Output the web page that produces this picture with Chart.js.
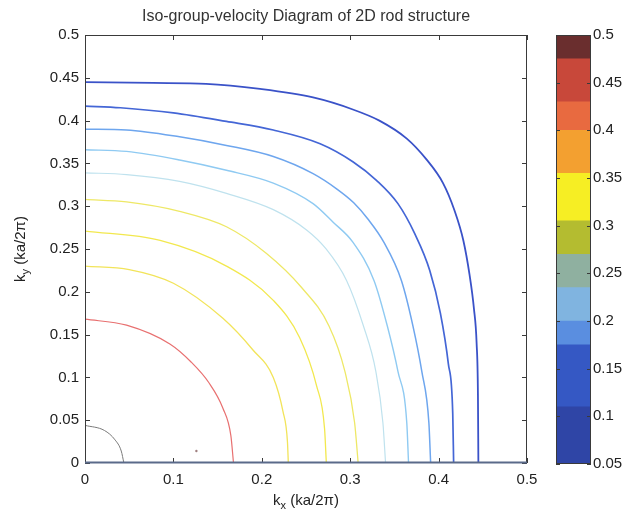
<!DOCTYPE html>
<html>
<head>
<meta charset="utf-8">
<title>Iso-group-velocity Diagram of 2D rod structure</title>
<script src="https://cdn.jsdelivr.net/npm/chart.js@4.4.1/dist/chart.umd.min.js"></script>
<style>
  html, body { margin: 0; padding: 0; background: #fff; }
  #wrap { position: relative; width: 627px; height: 519px; }
  #plot { position: absolute; left: 0; top: 0; }
  #bar { position: absolute; left: 540px; top: 0; }
</style>
</head>
<body>
<div id="wrap">
  <canvas id="plot" width="627" height="519"></canvas>
  <canvas id="bar" width="87" height="519"></canvas>
</div>
<script>
const chartTitle = 'Iso-group-velocity Diagram of 2D rod structure';

// iso-velocity contours, innermost first (kx, ky in units of ka/2pi)
const c1kx = [0, 0.022, 0.034, 0.041, 0.044];
const c1ky = [0.044, 0.038, 0.027, 0.014, 0];

const c2kx = [0, 0.047, 0.096, 0.120, 0.140, 0.156, 0.165, 0.168];
const c2ky = [0.168, 0.161, 0.139, 0.118, 0.094, 0.064, 0.032, 0];

const c3kx = [0, 0.050, 0.100, 0.156, 0.190, 0.213, 0.224, 0.229, 0.230];
const c3ky = [0.230, 0.226, 0.210, 0.169, 0.132, 0.100, 0.060, 0.025, 0];

const c4kx = [0, 0.085, 0.160, 0.213, 0.243, 0.262, 0.271, 0.273];
const c4ky = [0.271, 0.260, 0.230, 0.190, 0.146, 0.090, 0.040, 0];

const c5kx = [0, 0.047, 0.107, 0.160, 0.205, 0.245, 0.276, 0.294, 0.305, 0.309];
const c5ky = [0.308, 0.305, 0.294, 0.276, 0.245, 0.205, 0.160, 0.107, 0.047, 0];

const c6kx = [0, 0.047, 0.107, 0.160, 0.213, 0.251, 0.272, 0.296, 0.315, 0.329, 0.337, 0.340];
const c6ky = [0.339, 0.337, 0.329, 0.315, 0.296, 0.272, 0.251, 0.213, 0.160, 0.107, 0.047, 0];

const c7kx = [0, 0.047, 0.107, 0.160, 0.213, 0.258, 0.281, 0.303, 0.327, 0.342, 0.354, 0.364, 0.366];
const c7ky = [0.366, 0.364, 0.354, 0.342, 0.327, 0.303, 0.281, 0.258, 0.213, 0.160, 0.107, 0.047, 0];

const c8kx = [0, 0.047, 0.107, 0.160, 0.213, 0.258, 0.285, 0.304, 0.320, 0.338, 0.358, 0.371, 0.381, 0.389, 0.391];
const c8ky = [0.390, 0.389, 0.381, 0.371, 0.358, 0.338, 0.320, 0.304, 0.285, 0.258, 0.213, 0.160, 0.107, 0.047, 0];

const c9kx = [0, 0.040, 0.100, 0.160, 0.213, 0.266, 0.303, 0.330, 0.354, 0.373, 0.390, 0.402, 0.411, 0.416, 0.417];
const c9ky = [0.417, 0.415, 0.409, 0.399, 0.389, 0.373, 0.352, 0.330, 0.303, 0.268, 0.225, 0.175, 0.116, 0.058, 0];

const c10kx = [0, 0.077, 0.137, 0.198, 0.258, 0.303, 0.333, 0.364, 0.386, 0.405, 0.418, 0.428, 0.435, 0.440, 0.443, 0.4445, 0.445];
const c10ky = [0.445, 0.444, 0.443, 0.437, 0.427, 0.413, 0.400, 0.379, 0.355, 0.327, 0.295, 0.260, 0.220, 0.180, 0.140, 0.080, 0];

// lone contour fragment inside the red ring
const strayKx = [0.126];
const strayKy = [0.014];

const contourColors = ['#7a7a7a', '#e87070', '#f2e45a', '#f2e84e', '#eee866',
                       '#bfe2ee', '#8fcaf2', '#6ea6ee', '#4466d6', '#3a52c8'];
const contourWidths = [1, 1.2, 1.3, 1.3, 1.3, 1.2, 1.4, 1.5, 1.7, 1.8];

// colour bar steps
const barLo = [0.05, 0.11, 0.175, 0.20, 0.235, 0.27, 0.305, 0.355, 0.40, 0.43, 0.475];
const barHi = [0.11, 0.175, 0.20, 0.235, 0.27, 0.305, 0.355, 0.40, 0.43, 0.475, 0.5];
const barColors = ['#2f45a6', '#3558c4', '#5a8ee0', '#80b4e0', '#8fb0a0', '#b4bc30',
                   '#f6ee24', '#f3a030', '#e86a40', '#c8483a', '#6a2e2e'];

const FONT = '"Liberation Sans", Arial, sans-serif';
Chart.defaults.font.family = FONT;
Chart.defaults.font.size = 15;
Chart.defaults.color = '#222';

const fmt = v => String(Math.round(v * 100) / 100);

const contours = [
  [c1kx, c1ky], [c2kx, c2ky], [c3kx, c3ky], [c4kx, c4ky], [c5kx, c5ky],
  [c6kx, c6ky], [c7kx, c7ky], [c8kx, c8ky], [c9kx, c9ky], [c10kx, c10ky]
];

const datasets = contours.map(([xs, ys], i) => ({
  data: xs.map((x, j) => ({ x: x, y: ys[j] })),
  showLine: true,
  borderColor: contourColors[i],
  borderWidth: contourWidths[i],
  pointRadius: 0,
  cubicInterpolationMode: 'monotone',
  fill: false
}));
datasets.push({
  data: strayKx.map((x, j) => ({ x: x, y: strayKy[j] })),
  showLine: false,
  pointRadius: 1.2,
  pointBackgroundColor: '#a08080',
  pointBorderWidth: 0
});

// k with a subscript, optionally rotated for the vertical axis
function drawSubLabel(ctx, base, sub, rest, cx, cy, rotate) {
  ctx.save();
  ctx.translate(cx, cy);
  if (rotate) ctx.rotate(-Math.PI / 2);
  const big = '15px ' + FONT;
  const small = '11px ' + FONT;
  ctx.font = big;
  const w1 = ctx.measureText(base).width;
  const w3 = ctx.measureText(rest).width;
  ctx.font = small;
  const w2 = ctx.measureText(sub).width;
  const x0 = -(w1 + w2 + w3) / 2;
  ctx.fillStyle = '#222';
  ctx.textAlign = 'left';
  ctx.textBaseline = 'alphabetic';
  ctx.font = big;
  ctx.fillText(base, x0, 5);
  ctx.font = small;
  ctx.fillText(sub, x0 + w1, 9);
  ctx.font = big;
  ctx.fillText(rest, x0 + w1 + w2, 5);
  ctx.restore();
}

const framePlugin = {
  id: 'frame',
  afterDatasetsDraw(chart) {
    const { ctx, chartArea: a, scales: { x, y } } = chart;
    ctx.save();
    ctx.strokeStyle = '#3a3a3a';
    ctx.lineWidth = 1;
    ctx.strokeRect(a.left + 0.5, a.top + 0.5, a.right - a.left - 1, a.bottom - a.top - 1);

    // inward tick marks on all four sides
    ctx.beginPath();
    x.ticks.forEach(t => {
      const px = Math.round(x.getPixelForValue(t.value)) + 0.5;
      ctx.moveTo(px, a.bottom); ctx.lineTo(px, a.bottom - 5);
      ctx.moveTo(px, a.top); ctx.lineTo(px, a.top + 5);
    });
    y.ticks.forEach(t => {
      const py = Math.round(y.getPixelForValue(t.value)) + 0.5;
      ctx.moveTo(a.left, py); ctx.lineTo(a.left + 5, py);
      ctx.moveTo(a.right, py); ctx.lineTo(a.right - 5, py);
    });
    ctx.stroke();

    // bottom edge carries the ky = 0 contour
    ctx.strokeStyle = '#5a6a8a';
    ctx.lineWidth = 2;
    ctx.beginPath();
    ctx.moveTo(a.left, a.bottom - 0.5);
    ctx.lineTo(a.right, a.bottom - 0.5);
    ctx.stroke();

    ctx.fillStyle = '#333';
    ctx.font = '16px ' + FONT;
    ctx.textAlign = 'center';
    ctx.textBaseline = 'middle';
    ctx.fillText(chartTitle, (a.left + a.right) / 2, 17);
    ctx.restore();

    drawSubLabel(ctx, 'k', 'x', ' (ka/2\u03c0)', (a.left + a.right) / 2, 500, false);
    drawSubLabel(ctx, 'k', 'y', ' (ka/2\u03c0)', 20, (a.top + a.bottom) / 2, true);
  }
};

new Chart(document.getElementById('plot'), {
  type: 'scatter',
  data: { datasets: datasets },
  options: {
    responsive: false,
    animation: false,
    devicePixelRatio: 1,
    layout: { padding: { top: 35, right: 100, left: 0, bottom: 0 } },
    plugins: { legend: { display: false }, tooltip: { enabled: false }, title: { display: false } },
    scales: {
      x: {
        type: 'linear', min: 0, max: 0.5,
        ticks: { stepSize: 0.1, padding: 8, maxRotation: 0, callback: fmt },
        grid: { display: false, drawTicks: false },
        border: { display: false },
        afterFit: s => { s.height = 56; }
      },
      y: {
        type: 'linear', min: 0, max: 0.5,
        ticks: { stepSize: 0.05, padding: 6, callback: fmt },
        grid: { display: false, drawTicks: false },
        border: { display: false },
        afterFit: s => { s.width = 85; }
      }
    }
  },
  plugins: [framePlugin]
});

const barFrame = {
  id: 'barFrame',
  afterDatasetsDraw(chart) {
    const { ctx, chartArea: a, scales: { y } } = chart;
    ctx.save();
    ctx.strokeStyle = '#3a3a3a';
    ctx.lineWidth = 1;
    ctx.strokeRect(a.left + 0.5, a.top + 0.5, a.right - a.left - 1, a.bottom - a.top - 1);
    ctx.beginPath();
    y.ticks.forEach(t => {
      const py = Math.round(y.getPixelForValue(t.value)) + 0.5;
      ctx.moveTo(a.left, py); ctx.lineTo(a.left + 4, py);
      ctx.moveTo(a.right, py); ctx.lineTo(a.right - 4, py);
    });
    ctx.stroke();
    ctx.restore();
  }
};

new Chart(document.getElementById('bar'), {
  type: 'bar',
  data: {
    labels: [''],
    datasets: barLo.map((lo, i) => ({
      data: [[lo, barHi[i]]],
      backgroundColor: barColors[i],
      borderWidth: 0,
      barPercentage: 1,
      categoryPercentage: 1,
      grouped: false
    }))
  },
  options: {
    responsive: false,
    animation: false,
    devicePixelRatio: 1,
    layout: { padding: { top: 35, bottom: 55, left: 16, right: 0 } },
    plugins: { legend: { display: false }, tooltip: { enabled: false } },
    scales: {
      x: { display: false },
      y: {
        position: 'right', min: 0.05, max: 0.5,
        ticks: { stepSize: 0.05, padding: 2, callback: fmt },
        grid: { display: false, drawTicks: false },
        border: { display: false },
        afterFit: s => { s.width = 36; }
      }
    }
  },
  plugins: [barFrame]
});
</script>
</body>
</html>
